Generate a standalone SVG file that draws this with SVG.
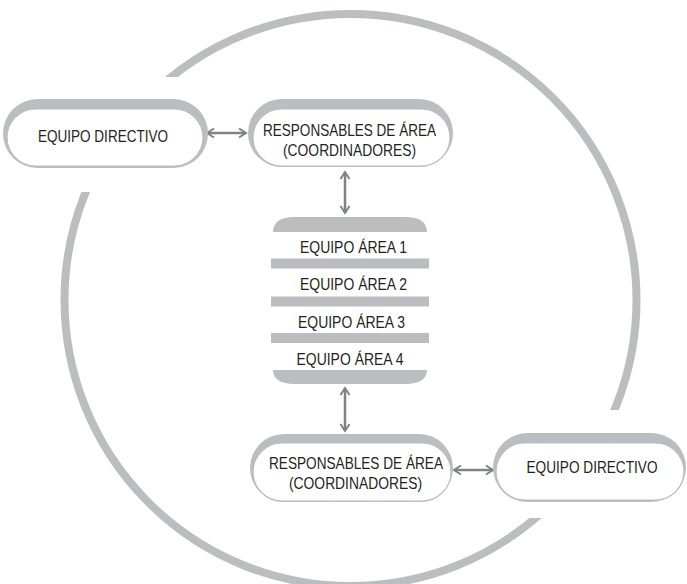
<svg xmlns="http://www.w3.org/2000/svg" width="687" height="584" viewBox="0 0 687 584">
  <style>
    .ring { fill: none; stroke: #bcbdc0; stroke-width: 8; }
    .shadow { fill: #bcbdc0; }
    .pill { fill: #ffffff; stroke: #bcbdc0; stroke-width: 1.2; }
    .bar { fill: #bcbdc0; }
    .lbl { font-family: "Liberation Sans", Arial, sans-serif; font-size: 17px; fill: #231f20; text-anchor: middle; }
    .conn { fill: none; stroke: #808285; stroke-width: 2.5; marker-start: url(#ah); marker-end: url(#ah); }
  </style>
  <defs>
    <marker id="ah" viewBox="-10 -6 12 12" refX="0" refY="0" markerWidth="12" markerHeight="12" markerUnits="userSpaceOnUse" orient="auto-start-reverse">
      <path d="M-7,-4.5 L0,0 L-7,4.5" fill="none" stroke="#808285" stroke-width="2"/>
    </marker>
    <mask id="gaps" maskUnits="userSpaceOnUse" x="0" y="0" width="687" height="584">
      <rect x="0" y="0" width="687" height="584" fill="#fff"/>
      <rect x="0" y="77" width="230" height="115" fill="#000"/>
      <rect x="470" y="410" width="217" height="108" fill="#000"/>
    </mask>
  </defs>

  <g id="ring">
    <circle class="ring" cx="350.5" cy="300" r="286" mask="url(#gaps)"/>
  </g>

  <g id="connectors">
    <line class="conn" x1="207" y1="133" x2="246" y2="133"/>
    <line class="conn" x1="345" y1="172" x2="345" y2="213"/>
    <line class="conn" x1="345" y1="388" x2="345" y2="431"/>
    <line class="conn" x1="454" y1="470" x2="493" y2="470"/>
  </g>

  <g id="node-directivo-top">
    <rect class="shadow" x="3" y="99" width="205" height="69" rx="34.5"/>
    <rect class="pill" x="7" y="109" width="196" height="57" rx="28.5"/>
    <text class="lbl" x="103" y="142" textLength="130" lengthAdjust="spacingAndGlyphs">EQUIPO DIRECTIVO</text>
  </g>

  <g id="node-responsables-top">
    <rect class="shadow" x="248" y="99" width="205" height="68" rx="34"/>
    <rect class="pill" x="253" y="109" width="197" height="57" rx="28.5"/>
    <text class="lbl" x="349.5" y="136" textLength="173" lengthAdjust="spacingAndGlyphs">RESPONSABLES DE ÁREA</text>
    <text class="lbl" x="349.5" y="156" textLength="133" lengthAdjust="spacingAndGlyphs">(COORDINADORES)</text>
  </g>

  <g id="node-equipos">
    <path class="bar" d="M273,232 C273,222 281,217 294,217 L406,217 C419,217 427,222 427,232 Z"/>
    <rect class="bar" x="271" y="258.5" width="158" height="10"/>
    <rect class="bar" x="271" y="296.5" width="158" height="10"/>
    <rect class="bar" x="271" y="333" width="158" height="10"/>
    <path class="bar" d="M273,370 L427,370 C427,379 419,384 406,384 L294,384 C281,384 273,379 273,370 Z"/>
    <text class="lbl" x="353.5" y="253" textLength="107" lengthAdjust="spacingAndGlyphs">EQUIPO ÁREA 1</text>
    <text class="lbl" x="353.5" y="290" textLength="107" lengthAdjust="spacingAndGlyphs">EQUIPO ÁREA 2</text>
    <text class="lbl" x="351.5" y="328" textLength="107" lengthAdjust="spacingAndGlyphs">EQUIPO ÁREA 3</text>
    <text class="lbl" x="350" y="365" textLength="107" lengthAdjust="spacingAndGlyphs">EQUIPO ÁREA 4</text>
  </g>

  <g id="node-responsables-bottom">
    <rect class="shadow" x="250" y="434" width="203" height="68" rx="34"/>
    <rect class="pill" x="253" y="443" width="198" height="58" rx="29"/>
    <text class="lbl" x="356" y="469" textLength="174" lengthAdjust="spacingAndGlyphs">RESPONSABLES DE ÁREA</text>
    <text class="lbl" x="355.5" y="489" textLength="133" lengthAdjust="spacingAndGlyphs">(COORDINADORES)</text>
  </g>

  <g id="node-directivo-bottom">
    <rect class="shadow" x="493" y="433" width="193" height="69" rx="34.5"/>
    <rect class="pill" x="496" y="443" width="188" height="57" rx="28.5"/>
    <text class="lbl" x="592" y="473" textLength="131" lengthAdjust="spacingAndGlyphs">EQUIPO DIRECTIVO</text>
  </g>
</svg>
